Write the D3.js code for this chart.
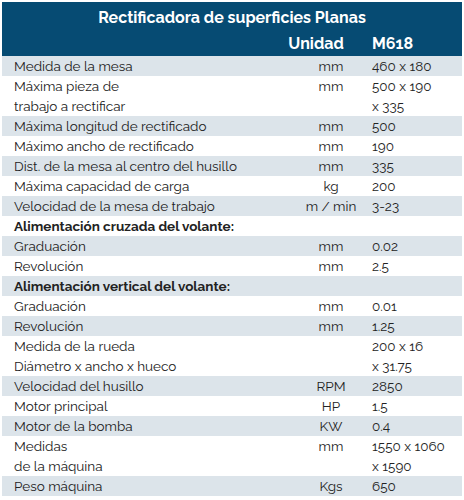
<!DOCTYPE html><html><head><meta charset="utf-8"><script src="https://cdn.jsdelivr.net/npm/d3@7"></script>
<style>body{margin:0;background:#fff}</style></head><body><svg id="c" width="464" height="500"></svg>
<script>
const title = "Rectificadora  de superficies Planas";
const headers = ["Unidad", "M618"];
const labels = [["Medida de la mesa"],["Máxima pieza de","trabajo a rectificar"],["Máxima longitud de rectificado"],["Máximo ancho de rectificado"],["Dist. de la mesa al centro del husillo"],["Máxima capacidad de carga"],["Velocidad de la mesa de trabajo"],["Alimentación cruzada del volante:"],["Graduación"],["Revolución"],["Alimentación vertical del volante:"],["Graduación"],["Revolución"],["Medida de la rueda","Diámetro x ancho x hueco"],["Velocidad del husillo"],["Motor principal"],["Motor de la bomba"],["Medidas","de la máquina"],["Peso máquina"]];
const units = ["mm","mm","mm","mm","mm","kg","m / min","","mm","mm","","mm","mm","","RPM","HP","KW","mm","Kgs"];
const values = [["460 x 180"],["500 x 190","x 335"],["500"],["190"],["335"],["200"],["3-23"],[""],["0.02"],["2.5"],[""],["0.01"],["1.25"],["200 x 16","x 31.75"],["2850"],["1.5"],["0.4"],["1550 x 1060","x 1590"],["650"]];
const boldRows = [7,10];
const svg = d3.select("#c");
const lh = 20, y0 = 56, font = "Raleway, Lato, sans-serif";
svg.append("rect").attr("x",2).attr("y",2).attr("width",460).attr("height",54).attr("fill","#064b73");
svg.append("text").attr("x",232).attr("y",23).attr("text-anchor","middle").attr("fill","#fff").attr("font-family",font).attr("font-weight","bold").attr("font-size",16).text(title);
svg.append("text").attr("x",316).attr("y",49).attr("text-anchor","middle").attr("fill","#fff").attr("font-family",font).attr("font-weight","bold").attr("font-size",16).text(headers[0]);
svg.append("text").attr("x",372).attr("y",49).attr("fill","#fff").attr("font-family",font).attr("font-weight","bold").attr("font-size",16).text(headers[1]);
let y = y0;
labels.forEach((lab,i)=>{
  const n = Math.max(lab.length, values[i].length);
  if(i%2===0) svg.append("rect").attr("x",2).attr("y",y).attr("width",460).attr("height",n*lh).attr("fill","#dce4ea");
  const g = svg.append("g").attr("font-family",font).attr("font-size",13.5).attr("fill","#222");
  lab.forEach((t,j)=>g.append("text").attr("x",14).attr("y",y+15+j*lh).attr("font-weight",boldRows.includes(i)?"bold":"normal").text(t));
  g.append("text").attr("x",331).attr("y",y+15).attr("text-anchor","middle").text(units[i]);
  values[i].forEach((t,j)=>g.append("text").attr("x",372).attr("y",y+15+j*lh).text(t));
  y += n*lh;
});
</script></body></html>
